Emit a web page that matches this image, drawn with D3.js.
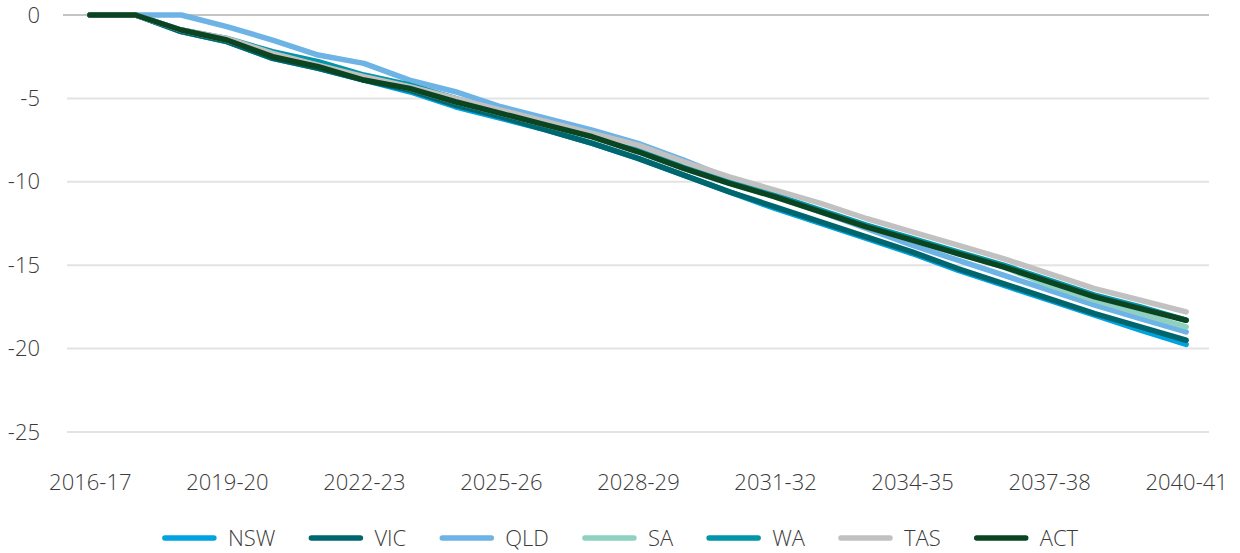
<!DOCTYPE html>
<html>
<head>
<meta charset="utf-8">
<script src="https://cdn.jsdelivr.net/npm/d3@7"></script>
<style>
  body { margin: 0; background: #fff; }
  text { font-family: "Open Sans", sans-serif; font-weight: 300; fill: #3b3b3b; }
</style>
</head>
<body>
<svg id="chart" width="1240" height="553"></svg>
<script>
// Financial years on the category axis
var years = ["2016-17", "2017-18", "2018-19", "2019-20", "2020-21", "2021-22", "2022-23",
  "2023-24", "2024-25", "2025-26", "2026-27", "2027-28", "2028-29", "2029-30", "2030-31",
  "2031-32", "2032-33", "2033-34", "2034-35", "2035-36", "2036-37", "2037-38", "2038-39",
  "2039-40", "2040-41"];

// Series names and colours (legend order)
var states = ["NSW", "VIC", "QLD", "SA", "WA", "TAS", "ACT"];
var colours = ["#00a3e0", "#00666e", "#6db3e6", "#8fd1c0", "#0095a8", "#c1c1c1", "#0b4421"];

// Values
var nsw = [0, 0, -1.0, -1.6, -2.6, -3.2, -3.9, -4.6, -5.5, -6.2, -6.9, -7.7, -8.6, -9.6, -10.6, -11.6, -12.5, -13.4, -14.3, -15.3, -16.2, -17.1, -18.0, -18.9, -19.75];
var vic = [0, 0, -1.0, -1.6, -2.6, -3.2, -3.9, -4.5, -5.4, -6.1, -6.9, -7.7, -8.6, -9.6, -10.6, -11.5, -12.4, -13.3, -14.2, -15.2, -16.1, -17.0, -17.9, -18.7, -19.5];
var qld = [0, 0, 0, -0.7, -1.5, -2.4, -2.9, -3.9, -4.6, -5.5, -6.2, -6.9, -7.7, -8.7, -9.8, -10.8, -11.8, -12.8, -13.8, -14.7, -15.6, -16.5, -17.4, -18.2, -19.0];
var sa = [0, 0, -0.9, -1.5, -2.4, -3.0, -3.8, -4.4, -5.2, -5.9, -6.6, -7.3, -8.2, -9.2, -10.1, -10.9, -11.8, -12.7, -13.5, -14.3, -15.1, -16.2, -17.1, -17.9, -18.7];
var wa = [0, 0, -0.9, -1.4, -2.2, -2.8, -3.6, -4.2, -5.0, -5.8, -6.5, -7.2, -8.1, -9.1, -10.0, -10.8, -11.7, -12.6, -13.4, -14.2, -15.0, -15.9, -16.8, -17.5, -18.3];
var tas = [0, 0, -0.9, -1.4, -2.3, -3.0, -3.7, -4.3, -5.0, -5.7, -6.4, -7.1, -7.8, -8.8, -9.7, -10.5, -11.3, -12.2, -13.0, -13.8, -14.6, -15.5, -16.4, -17.1, -17.8];
var act = [0, 0, -0.9, -1.5, -2.5, -3.1, -3.9, -4.4, -5.2, -5.9, -6.6, -7.3, -8.2, -9.2, -10.1, -10.9, -11.8, -12.7, -13.5, -14.3, -15.1, -16.0, -16.9, -17.6, -18.3];

var yTicks = [0, -5, -10, -15, -20, -25];
var xTickLabels = ["2016-17", "2019-20", "2022-23", "2025-26", "2028-29", "2031-32", "2034-35", "2037-38", "2040-41"];

var seriesValues = [nsw, vic, qld, sa, wa, tas, act];

var svg = d3.select("#chart");

// Plot area
var plotLeft = 67, plotRight = 1209, plotTop = 15, plotBottom = 432;

var x = d3.scalePoint()
  .domain(years)
  .range([plotLeft, plotRight])
  .padding(0.5);

var y = d3.scaleLinear()
  .domain([-25, 0])
  .range([plotBottom, plotTop]);

// Gridlines
svg.append("g")
  .selectAll("line")
  .data(yTicks)
  .enter().append("line")
  .attr("x1", function(d) { return d === 0 ? 63 : plotLeft; })
  .attr("x2", plotRight)
  .attr("y1", function(d) { return y(d); })
  .attr("y2", function(d) { return y(d); })
  .attr("stroke", function(d) { return d === 0 ? "#c4c4c4" : "#e3e3e3"; })
  .attr("stroke-width", 2);

// Y axis labels (plain hyphen minus, like the original)
var yAxis = d3.axisLeft(y)
  .tickValues(yTicks)
  .tickFormat(function(d) { return String(d); })
  .tickSize(0).tickPadding(0);
var yg = svg.append("g")
  .attr("transform", "translate(40,0)")
  .call(yAxis);
yg.select(".domain").remove();
yg.selectAll("text")
  .style("font-size", "22px")
  .style("font-family", "'Open Sans', sans-serif")
  .attr("fill", "#3b3b3b");

// X axis labels
var xAxis = d3.axisBottom(x).tickValues(xTickLabels).tickSize(0).tickPadding(0);
var xg = svg.append("g")
  .attr("transform", "translate(0,474)")
  .call(xAxis);
xg.select(".domain").remove();
xg.selectAll("text")
  .style("font-size", "22px")
  .style("font-family", "'Open Sans', sans-serif")
  .attr("fill", "#3b3b3b");

// Lines
var line = d3.line()
  .x(function(d, i) { return x(years[i]); })
  .y(function(d) { return y(d); });

svg.append("g")
  .selectAll("path")
  .data(seriesValues)
  .enter().append("path")
  .attr("d", line)
  .attr("fill", "none")
  .attr("stroke", function(d, i) { return colours[i]; })
  .attr("stroke-width", 5.5)
  .attr("stroke-linejoin", "round")
  .attr("stroke-linecap", "round");

// Legend
var legend = svg.append("g");
var items = legend.selectAll("g")
  .data(states)
  .enter().append("g");

items.append("line")
  .attr("x1", 3).attr("x2", 52)
  .attr("y1", 0).attr("y2", 0)
  .attr("stroke", function(d, i) { return colours[i]; })
  .attr("stroke-width", 5.5)
  .attr("stroke-linecap", "round");

items.append("text")
  .attr("x", 66)
  .attr("dy", "0.35em")
  .style("font-size", "22px")
  .text(function(d) { return d; });

var gap = 33, pos = 0, offsets = [];
items.each(function() {
  offsets.push(pos);
  pos += 66 + this.querySelector("text").getComputedTextLength() + gap;
});
var total = pos - gap;
var startX = 620 - total / 2;
items.attr("transform", function(d, i) {
  return "translate(" + (startX + offsets[i]) + ",538)";
});
</script>
</body>
</html>
